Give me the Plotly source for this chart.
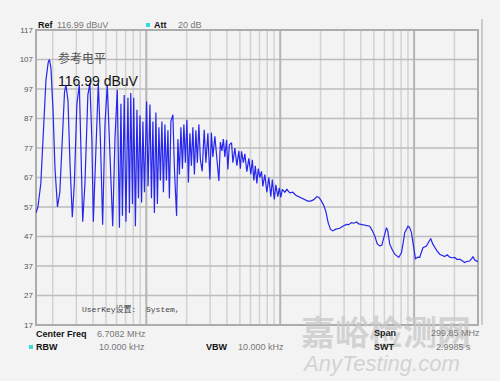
import plotly.graph_objects as go

# Spectrum trace: frequency (MHz) and level (dBuV)
freq_mhz = [
    0.150, 0.155, 0.163, 0.172, 0.178, 0.185, 0.189, 0.194, 0.201, 0.208,
    0.217, 0.226, 0.237, 0.245, 0.251, 0.260, 0.269, 0.280, 0.290, 0.303,
    0.316, 0.325, 0.335, 0.348, 0.366, 0.379, 0.392, 0.402, 0.417, 0.438,
    0.454, 0.472, 0.491, 0.511, 0.535, 0.561, 0.583, 0.607,
    0.630, 0.646, 0.663, 0.684, 0.704, 0.729, 0.748, 0.765, 0.788, 0.805,
    0.829, 0.851, 0.873, 0.896, 0.922, 0.943, 0.968, 1.005, 1.031, 1.064,
    1.092, 1.120, 1.149, 1.179, 1.210, 1.242, 1.274, 1.307, 1.342, 1.377,
    1.413, 1.450, 1.487, 1.526, 1.579, 1.621, 1.683, 1.721, 1.766, 1.813,
    1.860, 1.908, 1.958, 2.009, 2.062, 2.115, 2.171, 2.227, 2.286, 2.345,
    2.406, 2.469, 2.534, 2.614, 2.705, 2.785, 2.883, 2.983, 3.061, 3.141,
    3.251, 3.365, 3.483, 3.573, 3.666, 3.762, 3.860, 3.975, 4.064, 4.170,
    4.331, 4.429, 4.584, 4.744, 4.910, 5.038, 5.143, 5.305, 5.443, 5.633,
    5.832, 6.035, 6.192, 6.353, 6.519, 6.689, 6.864, 7.043, 7.251, 7.415,
    7.674, 7.943, 8.221, 8.509, 8.730, 9.036, 9.273, 9.596, 9.847, 10.10,
    10.37, 10.82, 11.20, 11.79, 12.42, 13.07, 13.77, 14.50, 15.26, 16.07,
    16.92, 17.81, 18.76, 19.42, 20.33, 21.16, 21.89, 22.78, 23.74, 24.70,
    26.00, 27.85, 29.33, 31.25, 32.51, 34.05, 35.43, 37.11, 38.60, 40.44,
    42.79, 45.06, 46.64, 48.68, 50.82, 53.05, 55.39, 57.33, 59.33, 62.15,
    63.53, 65.75, 68.64, 71.66, 76.76, 80.40, 82.93, 85.09, 90.07, 92.73,
    95.47, 97.63, 99.84, 102.3, 106.4, 110.1, 113.0, 116.5, 123.5, 128.5,
    133.0, 137.7, 142.5, 148.7, 155.3, 162.1, 169.2, 176.6, 184.4, 192.5,
    200.9, 209.7, 218.9, 228.6, 238.6, 249.1, 260.0, 269.1, 275.2, 283.3,
    291.7, 300.0,
]
level_dbuv = [
    55.0, 57.0, 65.0, 85.0, 100.0, 106.0, 107.0, 104.0, 90.0, 70.0,
    57.0, 62.0, 85.0, 96.0, 98.4, 93.0, 72.0, 53.5, 65.0, 92.0,
    98.4, 80.0, 52.0, 65.0, 95.0, 99.0, 80.0, 52.0, 75.0, 99.0,
    80.0, 51.0, 85.0, 98.4, 75.0, 50.5, 80.0, 96.7,
    50.0, 92.0, 54.0, 95.0, 52.0, 94.0, 55.0, 95.6, 58.0, 94.0,
    50.5, 90.0, 60.0, 88.0, 58.5, 86.0, 62.0, 92.8, 64.0, 91.7,
    60.0, 86.0, 55.0, 89.0, 58.0, 84.0, 66.0, 86.0, 62.0, 85.0,
    66.0, 83.0, 60.0, 86.0, 88.3, 70.0, 54.0, 80.0, 68.0, 84.0,
    70.0, 85.0, 72.0, 86.6, 65.3, 82.0, 71.0, 84.0, 68.0, 83.0,
    72.0, 85.0, 73.0, 69.1, 83.2, 72.0, 82.0, 66.3, 82.2, 74.0,
    81.0, 72.0, 65.8, 79.0, 76.0, 80.0, 74.0, 79.8, 69.7, 78.0,
    78.8, 72.0, 77.0, 71.0, 76.0, 70.0, 75.9, 72.0, 75.0, 69.0,
    73.5, 68.0, 73.0, 66.0, 71.0, 65.0, 70.0, 67.0, 69.1, 64.0,
    68.0, 62.0, 67.0, 60.5, 66.3, 59.6, 64.5, 60.5, 63.5, 60.3,
    63.0, 62.0, 63.0, 61.8, 62.0, 61.0, 60.5, 60.0, 59.5, 59.0,
    59.0, 59.5, 60.5, 60.3, 59.0, 57.5, 55.6, 51.8, 49.4, 48.9,
    49.5, 49.8, 50.5, 51.1, 51.0, 51.7, 51.5, 51.9, 51.3, 51.1,
    51.0, 50.7, 50.5, 49.0, 47.2, 44.5, 43.8, 44.0, 47.0, 50.0,
    49.0, 44.4, 42.5, 41.0, 39.9, 41.5, 45.0, 48.3, 50.5, 50.0,
    48.3, 45.0, 42.7, 39.5, 40.0, 39.9, 41.5, 43.2, 43.8, 45.0,
    46.3, 44.5, 43.2, 42.0, 41.0, 40.5, 40.2, 40.8, 40.0, 39.8,
    39.9, 39.2, 39.3, 38.8, 38.2, 38.6, 38.7, 39.5, 40.2, 39.0,
    38.7, 38.5,
]

# Axis definitions
f_start, f_stop = 0.15, 300.0
y_min, y_max = 17, 117
y_ticks = list(range(17, 118, 10))
minor_freqs = [0.2, 0.3, 0.4, 0.5, 0.6, 0.7, 0.8, 0.9,
               2, 3, 4, 5, 6, 7, 8, 9,
               20, 30, 40, 50, 60, 70, 80, 90, 200]
major_freqs = [1, 10, 100]

# Layout in pixels
W, H = 500, 381
L, R, T, B = 36, 22, 30, 56
PW, PH = W - L - R, H - T - B


def px(x):
    return (x - L) / PW


def py(y):
    return (H - B - y) / PH


fig = go.Figure()
fig.add_trace(go.Scatter(
    x=freq_mhz, y=level_dbuv, mode="lines",
    line=dict(color="#2626ee", width=1.2),
    hoverinfo="skip", showlegend=False,
))

shapes = []
for f in minor_freqs:
    shapes.append(dict(type="line", xref="x", yref="paper", x0=f, x1=f, y0=0, y1=1,
                       line=dict(color="#d2d2d2", width=1.5), layer="below"))
for v in y_ticks[1:-1]:
    shapes.append(dict(type="line", xref="paper", yref="y", x0=0, x1=1, y0=v, y1=v,
                       line=dict(color="#bdbdbd", width=1.5), layer="below"))
for f in major_freqs:
    shapes.append(dict(type="line", xref="x", yref="paper", x0=f, x1=f, y0=0, y1=1,
                       line=dict(color="#b4b4b4", width=2), layer="below"))
# outer frame
shapes.append(dict(type="rect", xref="paper", yref="paper", x0=0, x1=1, y0=0, y1=1,
                   line=dict(color="#acacac", width=2), layer="below"))
# extra right edge line
shapes.append(dict(type="line", xref="paper", yref="paper", x0=px(482), x1=px(482),
                   y0=py(325), y1=py(19), line=dict(color="#bcbcbc", width=1.5)))
# cyan markers
for cx, cy in [(148, 25), (31, 347)]:
    shapes.append(dict(type="rect", xref="paper", yref="paper",
                       x0=px(cx - 2), x1=px(cx + 2), y0=py(cy + 2), y1=py(cy - 2),
                       fillcolor="#33dddd", line=dict(width=0)))

ann = []


def text(x, y, s, size=9, color="#222", bold=False, family="Liberation Sans", anchor="left", **kw):
    if bold:
        s = "<b>" + s + "</b>"
    ann.append(dict(xref="paper", yref="paper", x=px(x), y=py(y), text=s, showarrow=False,
                    xanchor=anchor, yanchor="middle",
                    font=dict(size=size, color=color, family=family), **kw))


# watermark
text(299, 331, "嘉峪检测网", size=34, color="rgba(200,200,200,0.75)",
     family="Noto Sans CJK SC", bold=True)
text(300, 363, "<i>AnyTesting.com</i>", size=22, color="rgba(200,200,200,0.75)",
     family="Liberation Sans")

# header
text(36, 25, "Ref", size=9, color="#111", bold=True)
text(55, 25, "116.99 dBuV", size=9, color="#777")
text(152, 25, "Att", size=9, color="#111", bold=True)
text(176, 25, "20 dB", size=9, color="#777")
# footer
text(34, 334, "Center Freq", size=9, color="#111", bold=True)
text(95, 334, "6.7082 MHz", size=9, color="#777")
text(34, 347, "RBW", size=9, color="#111", bold=True)
text(97, 347, "10.000 kHz", size=9, color="#777")
text(204, 347, "VBW", size=9, color="#111", bold=True)
text(236, 347, "10.000 kHz", size=9, color="#777")
text(372, 333, "Span", size=9, color="#222", bold=True)
text(429, 333, "299.85 MHz", size=9, color="#777")
text(372, 347, "SWT", size=9, color="#222", bold=True)
text(434, 347, "2.9985 s", size=9, color="#777")
# in-plot labels
text(56, 57, "参考电平", size=12, color="#555", family="Noto Sans CJK SC")
text(56, 81, "116.99 dBuV", size=14, color="#111", family="Liberation Sans")
text(80, 309, "UserKey设置:  System,", size=8, color="#444", family="Liberation Mono, Noto Sans CJK SC")

import math
fig.update_layout(
    width=W, height=H,
    margin=dict(l=L, r=R, t=T, b=B, pad=0),
    paper_bgcolor="#f3f3f3", plot_bgcolor="#f3f3f3",
    shapes=shapes, annotations=ann,
    xaxis=dict(type="log", range=[math.log10(f_start), math.log10(f_stop)],
               showgrid=False, showticklabels=False, zeroline=False, showline=False,
               ticks=""),
    yaxis=dict(range=[y_min, y_max], tickvals=y_ticks, ticktext=[str(v) for v in y_ticks],
               showgrid=False, zeroline=False, showline=False, ticks="",
               tickfont=dict(size=8, color="#555", family="Liberation Sans"),
               ticklabelstandoff=2),
)

fig.write_html("out.html")
